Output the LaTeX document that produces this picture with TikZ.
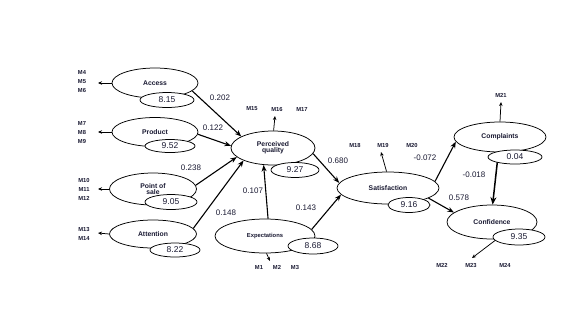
\documentclass[tikz,border=0pt]{standalone}
\usepackage{fontspec}
\setmainfont{Liberation Sans}
\usetikzlibrary{shapes.geometric,arrows.meta,backgrounds}
\definecolor{txt}{RGB}{25,25,50}
\begin{document}
\begin{tikzpicture}[x=1pt,y=-1pt,
  lat/.style={ellipse,draw,line width=0.75pt,fill=white,inner sep=0pt,align=center,
    font=\fontsize{6.8}{6.8}\selectfont\bfseries,text=txt},
  val/.style={ellipse,draw,line width=0.75pt,fill=white,inner sep=0pt,
    font=\fontsize{8.5}{9}\selectfont,text=txt},
  coef/.style={font=\fontsize{8}{9}\selectfont,text=txt,inner sep=0pt},
  ind/.style={font=\fontsize{5.8}{9}\selectfont\bfseries,text=txt,inner sep=0pt,align=center},
  path/.style={line width=1.1pt,-{Stealth[length=6.5pt,width=5pt]}},
  thin/.style={line width=0.75pt,-{Stealth[length=4pt,width=3.5pt]}}]
\useasboundingbox (0,0) rectangle (567,317);
% latent constructs
\node[lat,minimum width=86pt,minimum height=30pt] (acc) at (155,83) {Access};
\node[val,minimum width=54pt,minimum height=15pt] (accv) at (167,100) {8.15};
\node[lat,minimum width=86pt,minimum height=29pt] (prod) at (155,132) {Product};
\node[val,minimum width=50pt,minimum height=13pt] (prodv) at (170,146) {9.52};
\node[lat,minimum width=87pt,minimum height=32pt] (pos) at (153,189) {Point of\\[-1pt]sale};
\node[val,minimum width=52pt,minimum height=15pt] (posv) at (171,202) {9.05};
\node[lat,minimum width=87pt,minimum height=28pt] (att) at (153,234) {Attention};
\node[val,minimum width=50pt,minimum height=14pt] (attv) at (175,250) {8.22};
\node[lat,minimum width=84pt,minimum height=34pt] (pq) at (273,148) {Perceived\\[-1pt]quality};
\node[val,minimum width=48pt,minimum height=15pt] (pqv) at (295,170) {9.27};
\node[lat,minimum width=100pt,minimum height=34pt,font=\fontsize{5.8}{6}\selectfont\bfseries] (exp) at (265,236) {Expectations};
\node[val,minimum width=50pt,minimum height=16pt] (expv) at (313,246) {8.68};
\node[lat,minimum width=102pt,minimum height=32pt] (sat) at (388,188) {Satisfaction};
\node[val,minimum width=42pt,minimum height=15pt] (satv) at (409,205) {9.16};
\node[lat,minimum width=92pt,minimum height=30pt] (comp) at (500,137) {Complaints};
\node[val,minimum width=54pt,minimum height=14pt] (compv) at (515,157) {0.04};
\node[lat,minimum width=90pt,minimum height=34pt] (conf) at (492,222) {Confidence};
\node[val,minimum width=52pt,minimum height=16pt] (confv) at (519,237) {9.35};
% indicators
\node[ind] (i1) at (82,82) {M4\\M5\\M6};
\node[ind] (i2) at (82,133) {M7\\M8\\M9};
\node[ind] (i3) at (84,189.5) {M10\\M11\\M12};
\node[ind] (i4) at (84,234) {M13\\M14};
\node[ind] (m15) at (252,109) {M15};
\node[ind] (m16) at (277,109) {M16};
\node[ind] (m17) at (302,109) {M17};
\node[ind] (m18) at (355,145) {M18};
\node[ind] (m19) at (383,145) {M19};
\node[ind] (m20) at (412,145) {M20};
\node[ind] (m21) at (501,95) {M21};
\node[ind] (m1) at (259,267) {M1};
\node[ind] (m2) at (277,267) {M2};
\node[ind] (m3) at (295,267) {M3};
\node[ind] (m22) at (442,265) {M22};
\node[ind] (m23) at (471,265) {M23};
\node[ind] (m24) at (505,265) {M24};
\coordinate (e1) at (98,83);
\coordinate (e2) at (98,132);
\coordinate (e3) at (98,189);
\coordinate (e4) at (98,233);
\coordinate (e5) at (275,116);
\coordinate (e6) at (381,152);
\coordinate (e7) at (501,102);
\coordinate (e8) at (270,261);
\coordinate (e9) at (472,258);
\begin{scope}[on background layer]
\draw[thin] (acc.west) -- (e1);
\draw[thin] (prod.west) -- (e2);
\draw[thin] (pos.west) -- (e3);
\draw[thin] (att.west) -- (e4);
\draw[thin] (pq.88) -- (e5);
\draw[thin] (sat.95) -- (e6);
\draw[thin] (comp.90) -- (e7);
\draw[thin] (exp.-85) -- (e8);
\draw[thin] (conf.-75) -- (e9);
% structural paths
\draw[path] (acc.-12) -- (pq.160);
\draw[path] (prod.-3) -- (pq.177);
\draw[path] (pos.5) -- (pq.194);
\draw[path] (att.8) -- (pq.203);
\draw[path] (exp.80) -- (pq.-119);
\draw[path] (exp.8) -- (sat.188);
\draw[path] (pq.-8) -- (sat.174);
\draw[path] (sat.8) -- (comp.186);
\draw[path] (sat.-14) -- (conf.166);
\draw[line width=1.5pt,-{Stealth[length=7.5pt,width=6pt]}] (comp.-96) -- (conf.88);
\end{scope}
% coefficients
\node[coef] (c1) at (220,98) {0.202};
\node[coef] (c2) at (213,128) {0.122};
\node[coef] (c3) at (191,168) {0.238};
\node[coef] (c4) at (226,213) {0.148};
\node[coef] (c5) at (253,191) {0.107};
\node[coef] (c6) at (306,208) {0.143};
\node[coef] (c7) at (338,161) {0.680};
\node[coef] (c8) at (425,158) {-0.072};
\node[coef] (c9) at (459,198) {0.578};
\node[coef] (c10) at (474,175) {-0.018};
\end{tikzpicture}
\end{document}
